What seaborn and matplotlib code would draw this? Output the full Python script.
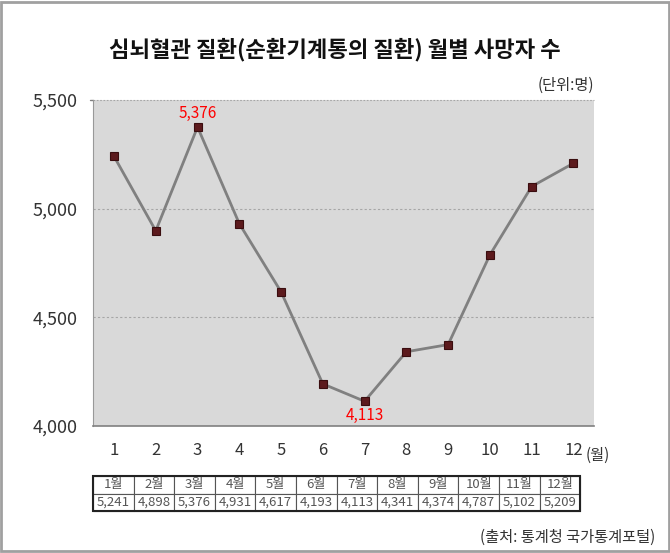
import numpy as np
import pandas as pd
import matplotlib
matplotlib.use("Agg")
import matplotlib.pyplot as plt
import seaborn as sns
from matplotlib.patches import Rectangle

months = [1, 2, 3, 4, 5, 6, 7, 8, 9, 10, 11, 12]
deaths = [5241, 4898, 5376, 4931, 4617, 4193, 4113, 4341, 4374, 4787, 5102, 5209]
month_labels = ["1월", "2월", "3월", "4월", "5월", "6월", "7월", "8월", "9월", "10월", "11월", "12월"]
y_ticks = [4000, 4500, 5000, 5500]

sns.set_style("white")
plt.rcParams['font.family'] = ['Noto Sans CJK KR', 'DejaVu Sans']

df = pd.DataFrame({"month": months, "deaths": deaths})

fig = plt.figure(figsize=(6.7, 5.53), dpi=100)
ax = fig.add_axes([0.139, 0.230, 0.748, 0.589])
ax.set_facecolor("#d9d9d9")

# gridlines
for y in [4500, 5000]:
    ax.axhline(y, color="#a6a6a6", lw=0.8, ls=(0, (2, 2)), zorder=1)

sns.lineplot(data=df, x="month", y="deaths", ax=ax, color="#808080", lw=2,
             marker="s", markersize=6, markerfacecolor="#5c1a1d",
             markeredgecolor="#3a0d0f", markeredgewidth=0.8, zorder=3)

ax.set_xlim(0.5, 12.5)
ax.set_ylim(4000, 5500)
ax.set_yticks(y_ticks)
ax.set_yticklabels([f"{v:,}" for v in y_ticks], fontsize=13, color="#333333")
ax.set_xticks(months)
ax.set_xticklabels([str(m) for m in months], fontsize=12, color="#333333")
ax.set_xticks(np.arange(0.5, 13, 1), minor=True)
ax.tick_params(axis="x", which="major", length=0, pad=12)
ax.tick_params(axis="x", which="minor", length=5, color="#808080", direction="out")
ax.tick_params(axis="y", length=5, color="#808080", direction="out", pad=6)
ax.set_xlabel("")
ax.set_ylabel("")

for side in ["top", "right"]:
    ax.spines[side].set_visible(False)
ax.spines["left"].set_color("#999999")
ax.spines["bottom"].set_color("#808080")
ax.spines["bottom"].set_linewidth(1.2)
ax.axhline(5500, color="#a6a6a6", lw=0.8, ls=(0, (1.5, 1.5)), clip_on=False, zorder=1)
ax.plot([0.5, 0.42], [5500, 5500], color="#808080", lw=1, clip_on=False)

# data labels
ax.text(3, 5376 + 25, f"{deaths[2]:,}", color="#ff0000", ha="center", va="bottom", fontsize=11)
ax.text(7, 4113 - 25, f"{deaths[6]:,}", color="#ff0000", ha="center", va="top", fontsize=11)

ax.text(12.3, 3862, "(월)", ha="left", va="center", fontsize=11, color="#333333")

fig.text(0.5, 0.91, "심뇌혈관 질환(순환기계통의 질환) 월별 사망자 수", ha="center", va="center",
         fontsize=16, fontweight="bold", color="#111111")
fig.text(0.887, 0.845, "(단위:명)", ha="right", va="center", fontsize=11, color="#333333")
fig.text(0.978, 0.028, "(출처: 통계청 국가통계포털)", ha="right", va="center", fontsize=11, color="#333333")

# table
tbl = plt.table(cellText=[month_labels, [f"{v:,}" for v in deaths]],
                cellLoc="center", bbox=[0.139, 0.076, 0.727, 0.063],
                transform=fig.transFigure)
tbl.auto_set_font_size(False)
tbl.set_fontsize(9.5)
for (r, c), cell in tbl.get_celld().items():
    cell.set_edgecolor("#555555")
    cell.set_linewidth(0.8)
    cell.get_text().set_color("#555555")
fig.add_artist(Rectangle((0.139, 0.076), 0.727, 0.063, transform=fig.transFigure,
                         fill=False, edgecolor="#222222", lw=1.5))

# outer border
fig.add_artist(Rectangle((0.002, 0.003), 0.996, 0.994, transform=fig.transFigure,
                         fill=False, edgecolor="#a0a0a0", lw=2))

fig.savefig("out.png", dpi=100)
